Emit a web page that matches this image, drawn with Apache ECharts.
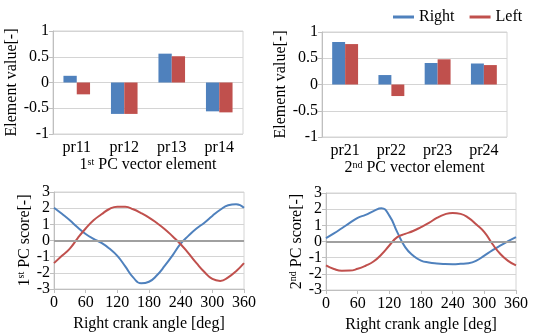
<!DOCTYPE html>
<html>
<head>
<meta charset="utf-8">
<script src="https://cdn.jsdelivr.net/npm/echarts@6/dist/echarts.min.js"></script>
<style>
  html, body { margin: 0; padding: 0; background: #fff; }
  #chart { width: 535px; height: 336px; }
</style>
</head>
<body>
<div id="chart"></div>
<script>
// bar charts: PC vector elements
const cats1 = ['pr11', 'pr12', 'pr13', 'pr14'];
const right1 = [0.13, -0.61, 0.56, -0.56];
const left1 = [-0.23, -0.61, 0.51, -0.58];
const cats2 = ['pr21', 'pr22', 'pr23', 'pr24'];
const right2 = [0.81, 0.18, 0.41, 0.40];
const left2 = [0.77, -0.22, 0.48, 0.37];

// line charts: PC scores vs right crank angle
const angles = [0, 15, 30, 45, 60, 75, 90, 105, 120, 135, 150, 165, 180,
  195, 210, 225, 240, 255, 270, 285, 300, 315, 330, 345, 360];
const score1Right = [2.03, 1.65, 1.25, 0.8, 0.4, 0.1, -0.15, -0.5, -0.95, -1.6, -2.28, -2.65, -2.55,
  -2.15, -1.56, -0.9, -0.2, 0.3, 0.74, 1.1, 1.52, 1.9, 2.18, 2.25, 2.03];
const score1Left = [-1.4, -0.95, -0.5, 0.15, 0.74, 1.25, 1.62, 1.95, 2.09, 2.08, 1.93, 1.7, 1.42,
  1.08, 0.7, 0.25, -0.23, -0.8, -1.4, -1.95, -2.38, -2.5, -2.28, -1.9, -1.4];
const score2Right = [0.21, 0.5, 0.82, 1.15, 1.46, 1.65, 1.88, 2.05, 1.6, 0.58, -0.35, -0.87, -1.18,
  -1.3, -1.36, -1.39, -1.4, -1.38, -1.34, -1.18, -0.87, -0.55, -0.25, 0.02, 0.27];
const score2Left = [-1.48, -1.7, -1.81, -1.8, -1.69, -1.5, -1.24, -0.8, -0.25, 0.27, 0.47, 0.65, 0.89,
  1.15, 1.46, 1.68, 1.77, 1.71, 1.46, 1.05, 0.58, -0.14, -0.76, -1.2, -1.48];

const BLUE = '#4F81BD';
const RED = '#C0504D';
const FONT = '"Liberation Serif", "Times New Roman", serif';

const rich = {
  n: { fontFamily: FONT, fontSize: 16, color: '#000' },
  s: { fontFamily: FONT, fontSize: 10, color: '#000', verticalAlign: 'top', lineHeight: 10 }
};

function pairs(arr) {
  return angles.map((a, i) => [a, arr[i]]);
}

const labelStyle = { fontFamily: FONT, fontSize: 16, color: '#000' };

const baseYAxis = {
  type: 'value',
  nameLocation: 'middle',
  nameRotate: 90,
  nameTextStyle: Object.assign({ rich: rich }, labelStyle),
  axisLine: { show: true, lineStyle: { color: '#bfbfbf' } },
  axisTick: { show: true, length: 4, lineStyle: { color: '#bfbfbf' } },
  axisLabel: Object.assign({ margin: 4 }, labelStyle),
  splitLine: { lineStyle: { color: '#d4d4d4' } }
};

function lineXAxis(idx) {
  return {
    gridIndex: idx, type: 'value', min: 0, max: 360, interval: 60,
    name: 'Right crank angle [deg]', nameLocation: 'middle', nameGap: 27,
    nameTextStyle: labelStyle,
    axisLine: { show: true, onZero: false, lineStyle: { color: '#bfbfbf' } },
    axisTick: { show: true, length: 4, lineStyle: { color: '#bfbfbf' } },
    axisLabel: Object.assign({ margin: 6 }, labelStyle),
    splitLine: { show: false }
  };
}

const zeroLine = {
  silent: true, symbol: 'none', label: { show: false },
  lineStyle: { color: '#a0a0a0', width: 2, type: 'solid' }, data: [{ yAxis: 0 }]
};

const chart = echarts.init(document.getElementById('chart'));

const option = {
  animation: false,
  textStyle: { fontFamily: FONT },
  legend: {
    data: ['Right', 'Left'],
    left: 388,
    top: 4,
    icon: 'rect',
    itemWidth: 21,
    itemHeight: 3,
    itemGap: 15,
    textStyle: labelStyle
  },
  grid: [
    { left: 53, top: 31, width: 190, height: 103, show: true, borderColor: '#d4d4d4' },
    { left: 322, top: 32, width: 185, height: 105, show: true, borderColor: '#d4d4d4' },
    { left: 54, top: 192, width: 190, height: 97, show: true, borderColor: '#d4d4d4' },
    { left: 326, top: 193, width: 190, height: 97, show: true, borderColor: '#d4d4d4' }
  ],
  xAxis: [
    {
      gridIndex: 0, type: 'category', data: cats1,
      name: '{n|1}{s|st}{n| PC vector element}', nameLocation: 'middle', nameGap: 22,
      nameTextStyle: Object.assign({ rich: rich }, labelStyle),
      axisLine: { show: false }, axisTick: { show: false },
      axisLabel: Object.assign({ margin: 6 }, labelStyle)
    },
    {
      gridIndex: 1, type: 'category', data: cats2,
      name: '{n|2}{s|nd}{n| PC vector element}', nameLocation: 'middle', nameGap: 19,
      nameTextStyle: Object.assign({ rich: rich }, labelStyle),
      axisLine: { show: false }, axisTick: { show: false },
      axisLabel: Object.assign({ margin: 6 }, labelStyle)
    },
    lineXAxis(2),
    lineXAxis(3)
  ],
  yAxis: [
    Object.assign({}, baseYAxis, { gridIndex: 0, min: -1, max: 1, interval: 0.5,
      name: 'Element value[-]', nameGap: 22 }),
    Object.assign({}, baseYAxis, { gridIndex: 1, min: -1, max: 1, interval: 0.5,
      name: 'Element value[-]', nameGap: 23 }),
    Object.assign({}, baseYAxis, { gridIndex: 2, min: -3, max: 3, interval: 1,
      name: '{n|1}{s|st}{n| PC score[-]}', nameGap: 19 }),
    Object.assign({}, baseYAxis, { gridIndex: 3, min: -3, max: 3, interval: 1,
      name: '{n|2}{s|nd}{n| PC score[-]}', nameGap: 20 })
  ],
  series: [
    { name: 'Right', type: 'bar', xAxisIndex: 0, yAxisIndex: 0, data: right1,
      itemStyle: { color: BLUE }, barGap: '0%', barCategoryGap: '44%' },
    { name: 'Left', type: 'bar', xAxisIndex: 0, yAxisIndex: 0, data: left1,
      itemStyle: { color: RED }, barGap: '0%', barCategoryGap: '44%' },
    { name: 'Right', type: 'bar', xAxisIndex: 1, yAxisIndex: 1, data: right2,
      itemStyle: { color: BLUE }, barGap: '0%', barCategoryGap: '44%' },
    { name: 'Left', type: 'bar', xAxisIndex: 1, yAxisIndex: 1, data: left2,
      itemStyle: { color: RED }, barGap: '0%', barCategoryGap: '44%' },
    { name: 'Right', type: 'line', xAxisIndex: 2, yAxisIndex: 2, data: pairs(score1Right),
      smooth: true, showSymbol: false, lineStyle: { color: BLUE, width: 2 }, itemStyle: { color: BLUE },
      markLine: zeroLine },
    { name: 'Left', type: 'line', xAxisIndex: 2, yAxisIndex: 2, data: pairs(score1Left),
      smooth: true, showSymbol: false, lineStyle: { color: RED, width: 2 }, itemStyle: { color: RED } },
    { name: 'Right', type: 'line', xAxisIndex: 3, yAxisIndex: 3, data: pairs(score2Right),
      smooth: true, showSymbol: false, lineStyle: { color: BLUE, width: 2 }, itemStyle: { color: BLUE },
      markLine: zeroLine },
    { name: 'Left', type: 'line', xAxisIndex: 3, yAxisIndex: 3, data: pairs(score2Left),
      smooth: true, showSymbol: false, lineStyle: { color: RED, width: 2 }, itemStyle: { color: RED } }
  ]
};

chart.setOption(option);
</script>
</body>
</html>
